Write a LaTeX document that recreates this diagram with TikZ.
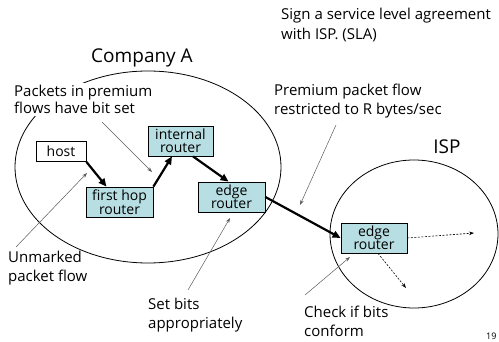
\documentclass[tikz,border=0pt]{standalone}
\usepackage{fontspec}
\setmainfont{Open Sans}
\usetikzlibrary{arrows.meta}
\definecolor{boxfill}{RGB}{183,222,226}
\definecolor{notegray}{RGB}{90,90,90}
\tikzset{
  router/.style={draw, line width=0.8pt, fill=boxfill, inner sep=0pt,
    align=center, font=\fontsize{14}{13.5}\selectfont},
  note/.style={align=left, inner sep=1pt, anchor=north west,
    font=\fontsize{15}{18.5}\selectfont},
  flow/.style={line width=2.2pt, -{Triangle[length=8pt,width=7pt]}},
  pointer/.style={notegray, line width=0.5pt, -{Stealth[length=5pt,width=3.5pt]}},
  dflow/.style={dashed, dash pattern=on 2pt off 1.5pt, line width=0.6pt,
    -{Stealth[length=5pt,width=3.5pt]}},
}
\begin{document}
\begin{tikzpicture}[x=1pt, y=-1pt]
\useasboundingbox (0,0) rectangle (499,342);

% domains
\draw[line width=0.8pt] (148,167) ellipse [x radius=133pt, y radius=96pt];
\draw[line width=0.8pt] (414,234) ellipse [x radius=84pt, y radius=74pt];

% headings
\node[note, font=\fontsize{15}{20}\selectfont] (sla) at (280,7) {Sign a service level agreement\\with ISP. (SLA)};
\node[font=\fontsize{19}{20}\selectfont] (compA) at (142,58) {Company A};
\node[font=\fontsize{19}{20}\selectfont] (isp) at (447,147) {ISP};

% routers and host
\node[router, fill=white, minimum width=50pt, minimum height=20pt] (host) at (61,151.5) {host};
\node[router, minimum width=65pt, minimum height=30pt] (internal) at (180.5,141) {internal\\router};
\node[router, minimum width=67pt, minimum height=30pt] (firsthop) at (119.5,202) {first hop\\router};
\node[router, minimum width=67pt, minimum height=30pt] (edgeA) at (231.5,197) {edge\\router};
\node[router, minimum width=66pt, minimum height=30pt] (edgeB) at (374,238) {edge\\router};

% premium packet path
\draw[flow] (host.south east) -- ([xshift=-13pt]firsthop.north);
\draw[flow] (firsthop.north east) -- ([xshift=-8.5pt]internal.south);
\draw[flow] ([xshift=12.5pt]internal.south) -- ([xshift=-3pt]edgeA.north);
\draw[flow] (edgeA.east) -- (edgeB.west);

% onward traffic inside the ISP
\coordinate (outR) at (474,233);
\coordinate (outD) at (406,288);
\draw[dflow] (edgeB.east) -- (outR);
\draw[dflow] ([xshift=4pt]edgeB.south) -- (outD);

% annotations
\node[note, fill=white, inner sep=2pt, font=\fontsize{15}{17}\selectfont] (premium) at (12,83) {Packets in premium\\flows have bit set};
\node[note] (limit) at (273,83) {Premium packet flow\\restricted to R bytes/sec};
\node[note] (unmarked) at (7,250) {Unmarked\\packet flow};
\node[note] (setbits) at (147,297) {Set bits\\appropriately};
\node[note] (check) at (303,305) {Check if bits\\conform};
\node[font=\fontsize{9}{10}\selectfont, anchor=west, inner sep=0pt] (page) at (486,336) {19};

\coordinate (pA) at (152,172);
\coordinate (pB) at (87,173);
\coordinate (pC) at (230,218);
\coordinate (pD) at (300,205);
\coordinate (pE) at (350,257);
\draw[pointer] (102,122) -- (pA);
\draw[pointer] (16,247) -- (pB);
\draw[pointer] (188,290) -- (pC);
\draw[pointer] (336,125) -- (pD);
\draw[pointer] (305,295) -- (pE);
\end{tikzpicture}
\end{document}
